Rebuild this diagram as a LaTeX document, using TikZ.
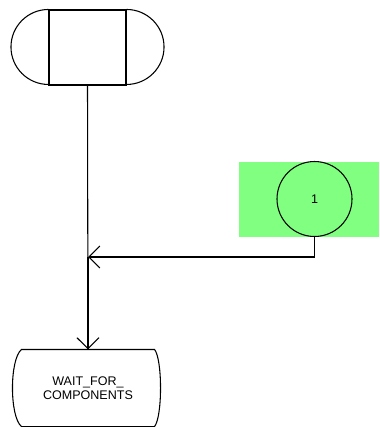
\documentclass[tikz,border=0pt]{standalone}
\usepackage{fontspec}
\setmainfont{Liberation Sans}
\usepackage{xcolor}
\definecolor{litegreen}{HTML}{80FF80}
\usetikzlibrary{arrows.meta}

\begin{document}
\begin{tikzpicture}[x=0.75pt,y=-0.75pt,line width=0.8pt,>={Straight Barb[length=8.25pt,width=16.5pt]}]
%\draw [help lines] (0,0) grid (379,427);
\tikzset{
	startbox/.style={
		rectangle,
		inner sep=0pt,
		draw=black,
		minimum width=57.75pt,
		minimum height=56.25pt
	},
	statebox/.style={
		rectangle,
		inner sep=0pt,
		align=center,
		font=\fontsize{9.4}{10.5}\selectfont,
		minimum width=99pt,
		minimum height=57pt
	},
	conbox/.style={
		circle,
		inner sep=0pt,
		draw=black,
		font=\fontsize{9.4}{10.5}\selectfont,
		minimum size=56.25pt
	},
	greenbox/.style={
		rectangle,
		inner sep=0pt,
		fill=litegreen,
		minimum width=105pt,
		minimum height=56.25pt
	},
}
\useasboundingbox (0,0) rectangle (379,427);

\node (g) [greenbox] at (309,199.5) {};
\node (a) [startbox] at (87.5,47.5) {};
\node (c) [conbox] at (314.5,199) {1};
\node (w) [statebox] at (88,388) {WAIT\_FOR\_\\COMPONENTS};
\coordinate (m) at (88,257);

\draw (a.north west) arc[start angle=90, end angle=270, radius=28.125pt];
\draw (a.north east) arc[start angle=90, end angle=-90, radius=28.125pt];
\draw (w.north west) -- (w.north east)
	.. controls +(8,10) and +(8,-10) .. (w.south east)
	-- (w.south west)
	.. controls +(-12,-10) and +(-12,10) .. (w.north west) -- cycle;

\draw [->] (a.south) -- (w.north);
\draw [->] (c.south) |- (m);
\draw [line width=1.5pt] (m) -- (w.north);
\end{tikzpicture}
\end{document}
